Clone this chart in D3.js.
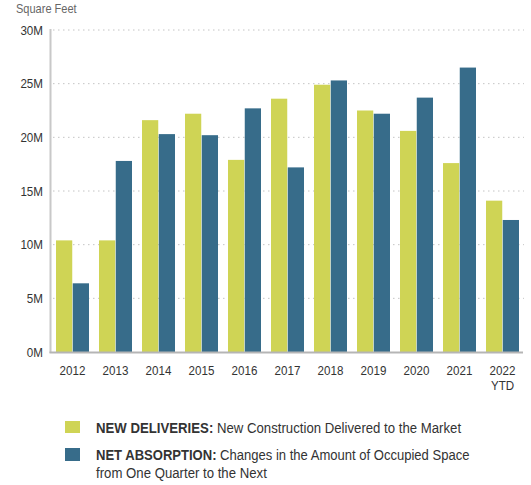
<!DOCTYPE html>
<html>
<head>
<meta charset="utf-8">
<script src="https://cdn.jsdelivr.net/npm/d3@7"></script>
<style>
  body { margin: 0; background: #fff; }
  text { font-family: "Liberation Sans", Arial, sans-serif; }
</style>
</head>
<body>
<div id="chartBox"></div>
<script>
var years = ['2012', '2013', '2014', '2015', '2016', '2017', '2018', '2019', '2020', '2021', '2022'];
var deliveries = [10.4, 10.4, 21.6, 22.2, 17.9, 23.6, 24.9, 22.5, 20.6, 17.6, 14.1];
var absorption = [6.4, 17.8, 20.3, 20.2, 22.7, 17.2, 25.3, 22.2, 23.7, 26.5, 12.3];
var yTicks = [0, 5, 10, 15, 20, 25, 30];
var seriesNames = ['deliveries', 'absorption'];
var colors = ['#cfd455', '#376c8a'];

var width = 531, height = 485;
var plotLeft = 51, plotRight = 524, plotTop = 30, plotBottom = 352;

var svg = d3.select('#chartBox').append('svg')
    .attr('width', width)
    .attr('height', height);

// narrow-ish text: the original uses a condensed face, squeeze horizontally
function narrowText(parent, px, py, sx, anchor, size, fill) {
    return parent.append('text')
        .attr('transform', 'translate(' + px + ',' + py + ') scale(' + sx + ',1)')
        .attr('text-anchor', anchor)
        .attr('fill', fill)
        .style('font-size', size + 'px');
}

var x = d3.scaleBand()
    .domain(years)
    .range([plotLeft, plotRight])
    .paddingInner(10 / 43)
    .paddingOuter(5 / 43);

var x1 = d3.scaleBand()
    .domain(seriesNames)
    .range([0, x.bandwidth()])
    .paddingInner(1 / 33);

var y = d3.scaleLinear()
    .domain([0, 30])
    .range([plotBottom, plotTop]);

// dotted grid
svg.append('g')
    .selectAll('line')
    .data(yTicks.slice(1))
    .enter()
    .append('line')
    .attr('x1', plotLeft + 2)
    .attr('x2', plotRight)
    .attr('y1', d => y(d))
    .attr('y2', d => y(d))
    .attr('stroke', '#c4c4c4')
    .attr('stroke-width', 1)
    .attr('stroke-dasharray', '1.5,3.5');

// bars
var groups = svg.append('g')
    .selectAll('g')
    .data(years)
    .enter()
    .append('g')
    .attr('transform', d => 'translate(' + x(d) + ',0)');

groups.selectAll('rect')
    .data((d, i) => [
        { key: 'deliveries', v: deliveries[i] },
        { key: 'absorption', v: absorption[i] }
    ])
    .enter()
    .append('rect')
    .attr('x', d => x1(d.key))
    .attr('width', x1.bandwidth())
    .attr('y', d => y(d.v))
    .attr('height', d => y(0) - y(d.v))
    .attr('fill', (d, i) => colors[i]);

// axis lines
svg.append('line')
    .attr('x1', plotLeft - 0.5).attr('x2', plotLeft - 0.5)
    .attr('y1', plotTop - 1).attr('y2', plotBottom + 1)
    .attr('stroke', '#c8c8c8')
    .attr('stroke-width', 2);

svg.append('line')
    .attr('x1', plotLeft - 1.5).attr('x2', plotRight - 1)
    .attr('y1', plotBottom + 0.5).attr('y2', plotBottom + 0.5)
    .attr('stroke', '#b5b5b5')
    .attr('stroke-width', 2);

// y labels
var yAxis = svg.append('g');
yTicks.forEach(function(d) {
    narrowText(yAxis, 43, y(d) + 4.5, 0.93, 'end', 12.5, '#333').text(d + 'M');
});

// x labels
var xAxis = svg.append('g');
years.forEach(function(d) {
    narrowText(xAxis, x(d) + x.bandwidth() / 2, 375, 0.86, 'middle', 13.5, '#333').text(d);
});
narrowText(xAxis, x('2022') + x.bandwidth() / 2, 390, 0.86, 'middle', 13.5, '#333').text('YTD');

narrowText(svg, 16, 13, 0.92, 'start', 12, '#666').text('Square Feet');

// legend
var legend = svg.append('g');
legend.append('rect')
    .attr('x', 65).attr('y', 421)
    .attr('width', 15).attr('height', 12)
    .attr('fill', colors[0]);
legend.append('rect')
    .attr('x', 65).attr('y', 448)
    .attr('width', 15).attr('height', 13)
    .attr('fill', colors[1]);

var t1 = narrowText(legend, 96, 433, 0.91, 'start', 14.5, '#333');
t1.append('tspan').style('font-weight', 'bold').text('NEW DELIVERIES:');
t1.append('tspan').text(' New Construction Delivered to the Market');

var t2 = narrowText(legend, 96, 460, 0.9, 'start', 14.5, '#333');
t2.append('tspan').style('font-weight', 'bold').text('NET ABSORPTION:');
t2.append('tspan').text(' Changes in the Amount of Occupied Space');

narrowText(legend, 96, 478, 0.91, 'start', 14.5, '#333').text('from One Quarter to the Next');
</script>
</body>
</html>
